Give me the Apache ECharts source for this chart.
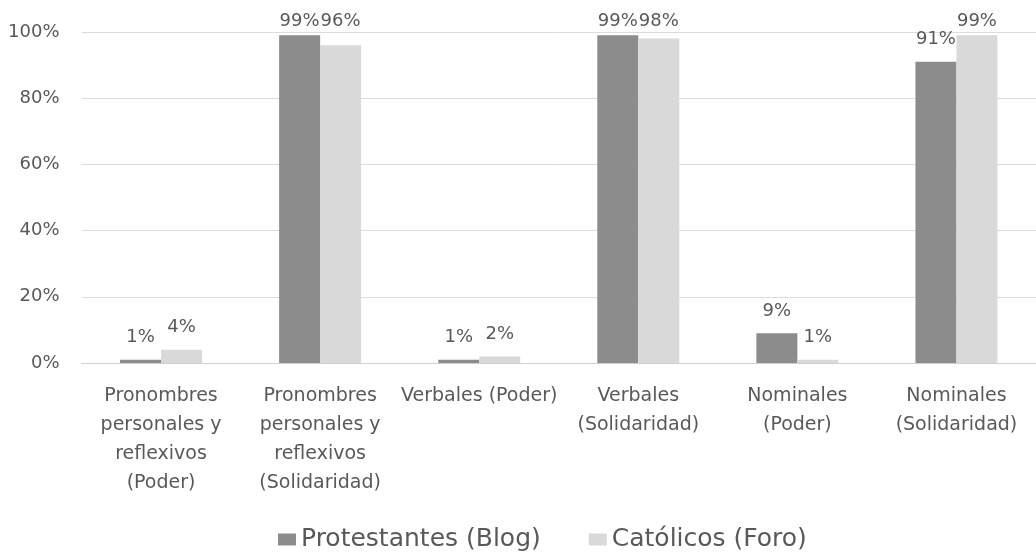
<!DOCTYPE html>
<html>
<head>
<meta charset="utf-8">
<script src="https://cdn.jsdelivr.net/npm/echarts@6/dist/echarts.min.js"></script>
<style>html,body{margin:0;padding:0;background:#fff}#c{width:1036px;height:554px}</style>
</head>
<body>
<div id="c"></div>
<script>
const categories = [
  'Pronombres\npersonales y\nreflexivos\n(Poder)',
  'Pronombres\npersonales y\nreflexivos\n(Solidaridad)',
  'Verbales (Poder)',
  'Verbales\n(Solidaridad)',
  'Nominales\n(Poder)',
  'Nominales\n(Solidaridad)'
];
const protestantes = [1, 99, 1, 99, 9, 91];
const catolicos = [4, 96, 2, 98, 1, 99];
const seriesNames = ['Protestantes (Blog)', 'Católicos (Foro)'];

const font = '"DejaVu Sans", sans-serif';
const txt = '#595959';
const chart = echarts.init(document.getElementById('c'));
const lbl = {show: true, position: 'top', formatter: '{c}%', color: txt, fontFamily: font, fontSize: 18, distance: 13};
chart.setOption({
  animation: false,
  legend: {
    top: 522, left: 273, itemWidth: 18, itemHeight: 12, itemGap: 48,
    icon: 'rect',
    textStyle: {color: txt, fontSize: 25, fontFamily: font},
    data: seriesNames
  },
  grid: {left: 81.5, width: 967, top: 32, bottom: 191, containLabel: false},
  xAxis: {
    type: 'category', data: categories,
    axisTick: {show: false},
    axisLine: {lineStyle: {color: '#d0d0d0'}},
    axisLabel: {color: txt, fontSize: 19, fontFamily: font, lineHeight: 29, margin: 19, interval: 0}
  },
  yAxis: {
    type: 'value', min: 0, max: 100, interval: 20,
    axisLabel: {formatter: '{value}%', color: txt, fontSize: 18, fontFamily: font, margin: 22},
    splitLine: {lineStyle: {color: '#dcdcdc'}},
    axisLine: {show: false}, axisTick: {show: false}
  },
  labelLayout: function (p) {
    const r = p.labelRect;
    if (r.y < 16) return {x: r.x + r.width / 2, y: 12, align: 'center', verticalAlign: 'top'};
  },
  series: [
    {name: seriesNames[0], type: 'bar', data: protestantes, barWidth: 41, barGap: '0%',
     itemStyle: {color: '#8c8c8c'}, label: lbl},
    {name: seriesNames[1], type: 'bar', data: catolicos, barWidth: 41, barGap: '0%',
     itemStyle: {color: '#d9d9d9'}, label: lbl}
  ]
});
</script>
</body>
</html>
